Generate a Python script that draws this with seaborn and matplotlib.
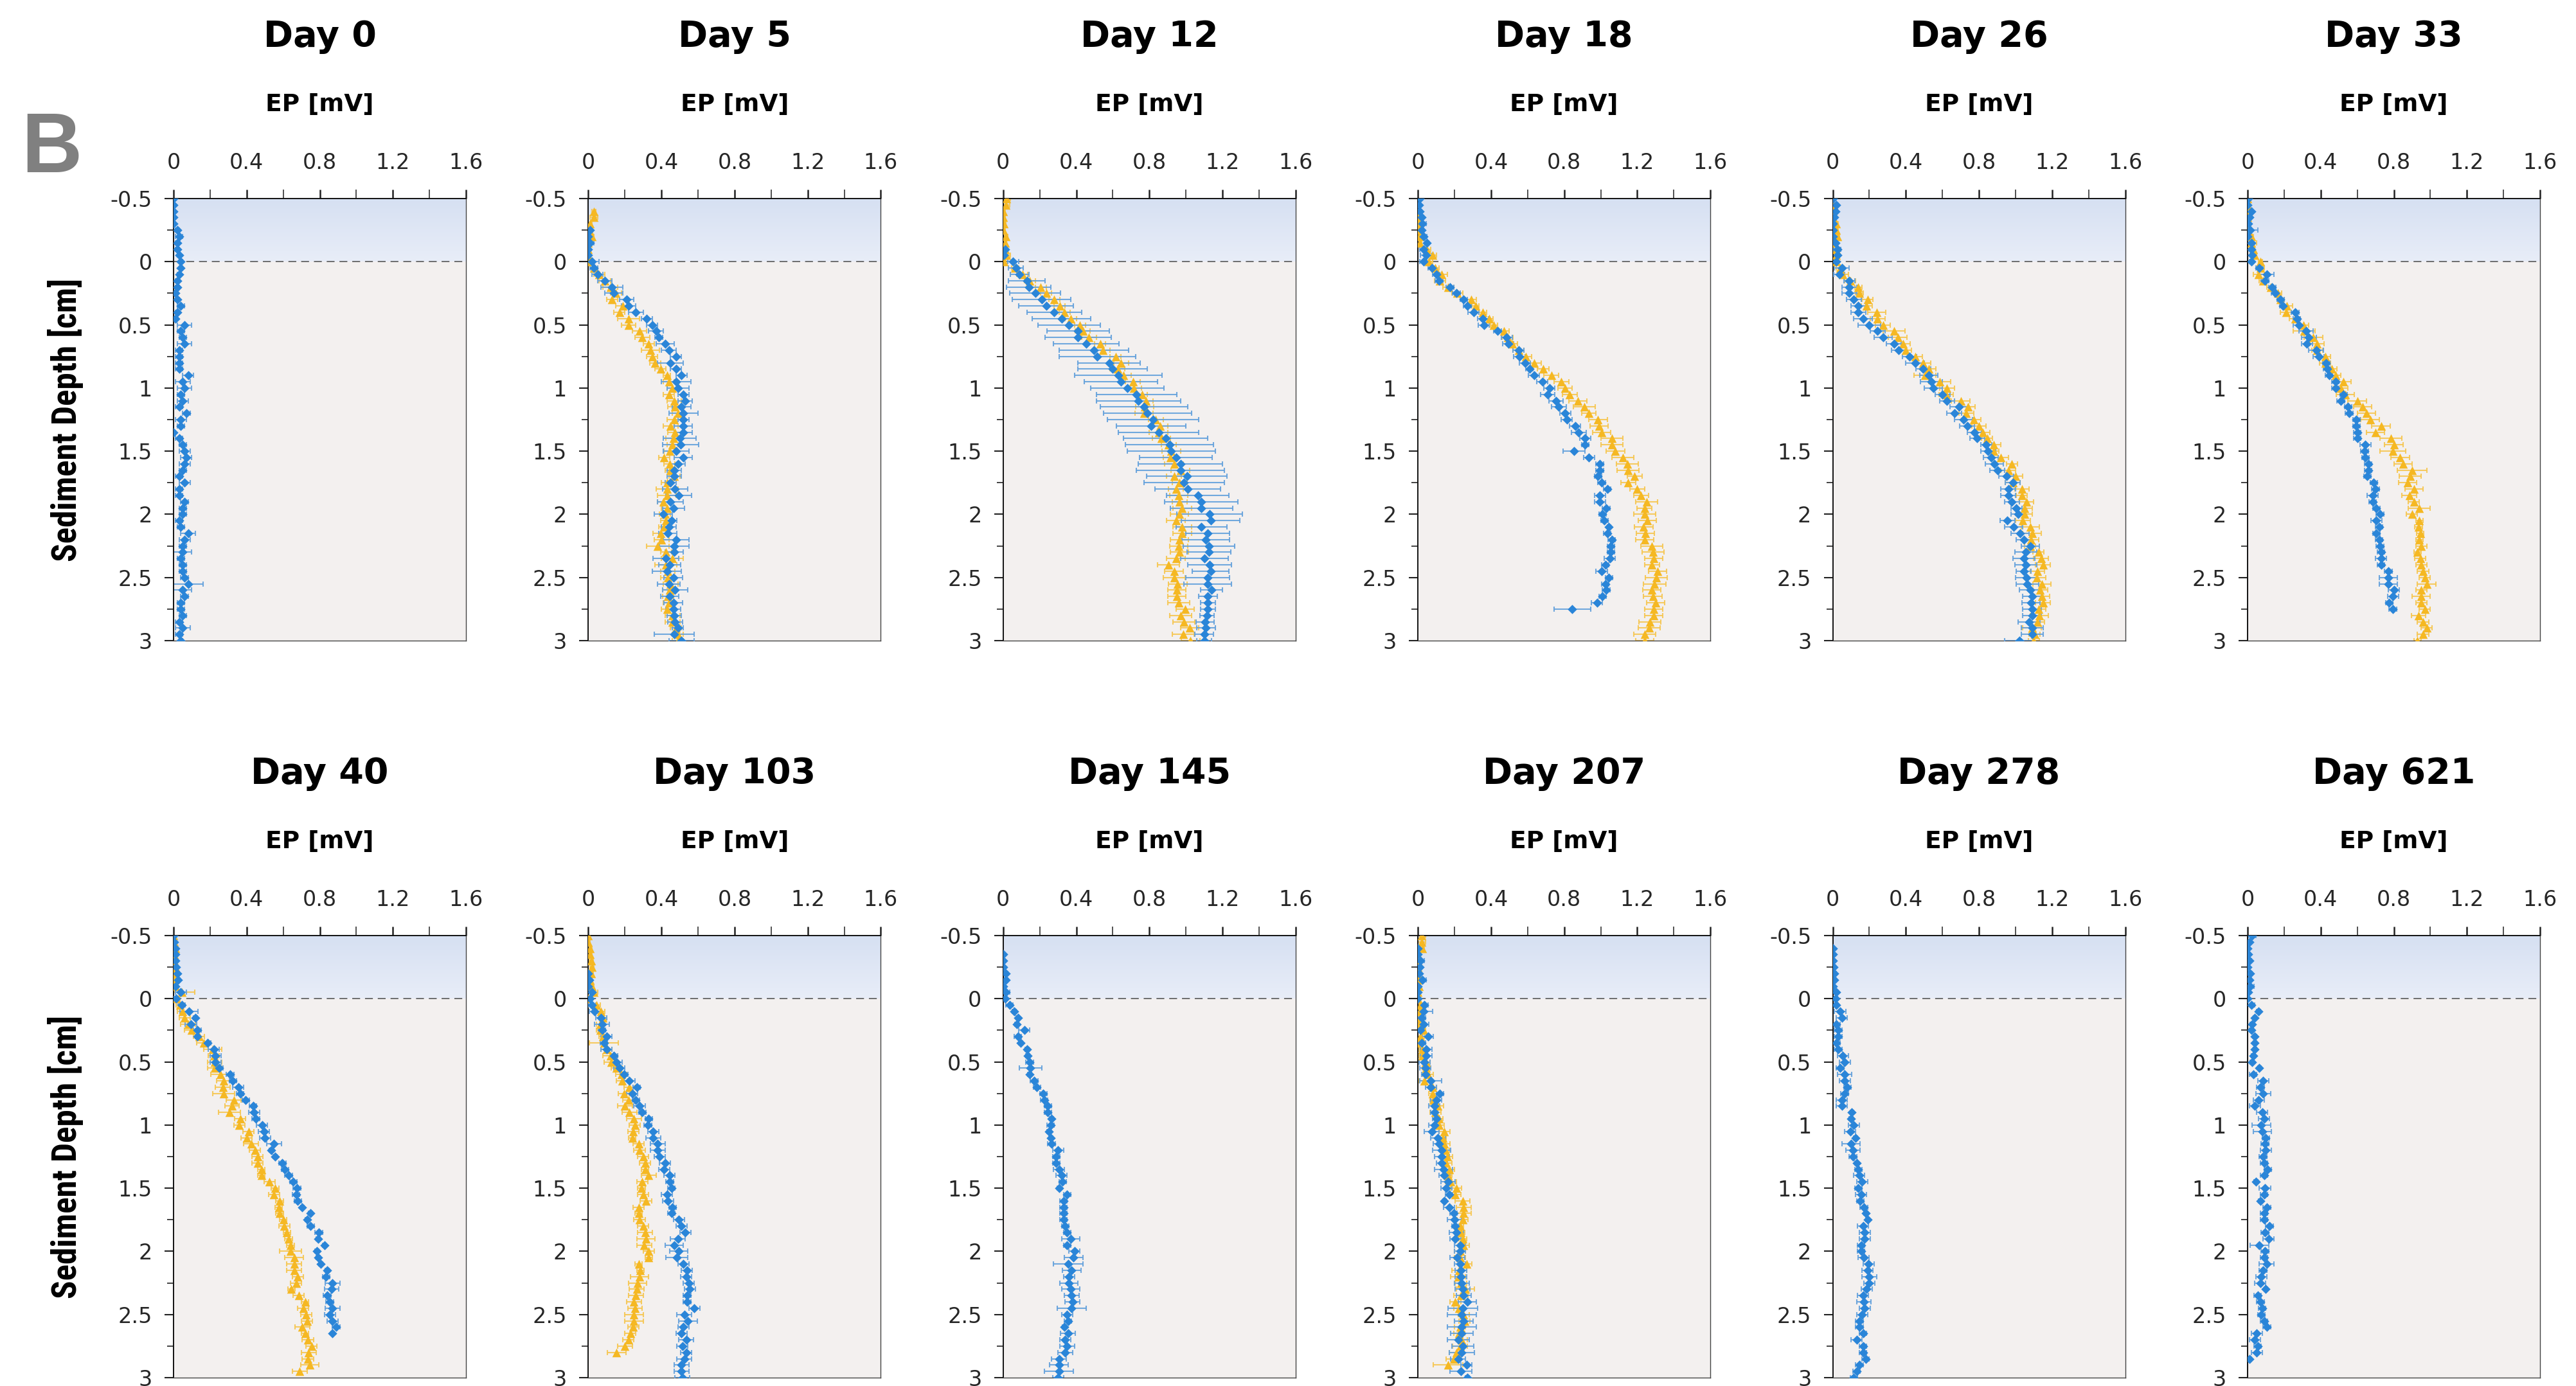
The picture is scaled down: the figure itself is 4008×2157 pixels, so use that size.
import numpy as np
import pandas as pd
import seaborn as sns
import matplotlib
matplotlib.use("Agg")
import matplotlib.pyplot as plt
from matplotlib.colors import LinearSegmentedColormap
from matplotlib.ticker import FixedLocator, FuncFormatter
from matplotlib import font_manager
from matplotlib.font_manager import FontProperties

N = None  # no measurement at this depth

# sampling depths (cm), every 0.05 cm from -0.5 to 3.0 (71 levels)
DEPTH = np.round(np.arange(-0.5, 3.0001, 0.05), 2)

DAYS = ["Day 0", "Day 5", "Day 12", "Day 18", "Day 26", "Day 33",
        "Day 40", "Day 103", "Day 145", "Day 207", "Day 278", "Day 621"]
X_TICKS = [0, 0.4, 0.8, 1.2, 1.6]
Y_TICKS = [-0.5, 0, 0.5, 1, 1.5, 2, 2.5, 3]

# EP values and error half-widths in units of 0.01 mV
d0_b = [0,0,0,0,0,2,3,2,2,3, 4,4,3,2,2,1,2,4,2,1, 6,4,5,6,3,3,3,3,8,5,
        6,4,5,3,7,4,4,0,3,5, 6,7,6,5,3,6,3,3,6,5, 5,3,4,8,6,5,5,4,5,5,
        6,8,5,6,4,4,5,3,5,3, 4]
d0_be = [0,0,0,0,0,1,2,1,1,1, 1,1,1,1,1,1,1,2,1,1, 4,2,2,4,2,2,2,2,3,4,
         4,2,3,2,2,3,2,0,2,2, 3,3,3,2,2,3,2,2,2,2, 2,2,2,4,3,2,5,2,2,2,
         2,8,5,2,2,2,2,2,4,2, 1]

d5_b = [N,N,N,N,N,1,0,1,0,0, 2,3,5,9,13,14,21,22,26,32,
        35,37,38.5,42,44,48,45,48,51,48, 49,52,53,51,52,52,52,52,50,50.5,
        48,52,49,47,47,45,47.5,49.5,45,46.5, 41,45.5,44,43.5,48,47,47,42.5,44.5,43,
        46.5,44,47.5,44.5,46.5,46.5,47,47.5,49,47, 51]
d5_be = [0,0,0,0,0,1,1,2,1,1, 4,2,3,4,6,5,4,4,4,3, 3,4,2,5,4,3,7,3,3,8,
         6,3,4,5,8,3,5,5,9,10, 7,5,4,4,4,3,7,7,7,6, 5,3,4,5,7,8,5,7,6,8,
         5,6,7,5,5,4,4,4,3,11, 7]
d5_o = [N,N,3,3,1,0.5,2,0,0,0, 0.5,3,6,9,12,15,13,19,17,22,
        22,28,29.5,33,34,35,36.5,39.5,43,44, 46,44,47,47.5,49,47,45,47.5,46.5,46,
        44.5,41.5,44.5,45,47,43,43,43,41,43, 42,42.5,41.5,39.5,40,38,42.5,46,42.5,43.5,
        43.5,45,44.5,43.5,44,43,46,46,48,49, 49]
d5_oe = [0,0,1,2,1,1,1,1,1,1, 1,2,3,3,4,3,3,4,3,6, 4,4,4,3,5,3,3,3,2,3,
         3,3,4,4,3,4,4,4,4,3, 3,3,3,3,3,3,6,5,3,3, 3,3,3,4,4,6,3,6,6,4,
         4,4,4,3,3,3,4,4,3,3, 3]

d12_b = [N,N,N,N,N,N,N,N,1,0.5, 5.5,7,9,13,14,17.5,21,23.5,28,32,
         36,41,41,45.5,49.5,51.5,58,60,63,64.5, 68,73,74,77,79,82,81,85,89,91,
         92,94.5,97,97,100.5,99,101,106.5,108.5,108.5, 113,113.5,108.5,112,111,112.5,112.5,110,113,113.5,
         112,112,114,112,112,112,111.5,110.5,111,110, 110]
d12_be = [0,0,0,0,0,0,0,0,1,1, 3,4,5,10,12,14,16,15,15,16, 17,17,18,18,19,21,17,19,24,20,
          20,22,23,24,24,25,19,22,23,24, 24,20,23,24,22,22,18,17,20,17, 18,16,14,12,13,14,12,13,12,10,
          12,13,6,5,4,4,4,5,5,5, 4]
d12_o = [2,1.5,0,0,0.5,0,1.5,1,1,2, 0.5,6.5,10.5,14.5,20.5,23.5,28,31,33.5,37,
         42,43.5,47,53,54.5,61.5,64.5,62.5,66,71, 71.5,76,78,77.5,77,83.5,86,85,86.5,90.5,
         92,91.5,93.5,97,93.5,96.5,94.5,96,96.5,98, 96.5,94.5,98,98,96.5,96,96.5,94.5,90.5,93.5,
         93.5,95.5,95,95,96,99.5,97,99,102,98.5, 102.5]
d12_oe = [2,2,1,1,1,1,1,1,1,2, 1,2,3,3,3,3,3,3,3,3, 3,4,4,3,4,3,4,4,4,4,
          4,3,4,5,5,4,4,5,5,4, 5,4,5,5,4,4,4,5,4,5, 5,5,5,5,5,5,5,5,6,5,
          6,5,5,5,6,5,6,6,5,6, 5]

d18_b = [1,0.5,1,2,2.5,2,3,5,3,4.5, 3,7.5,10,11.5,17.5,21,25,27,30.5,35.5,
         36,43.5,48.5,49.5,55,55.5,58.5,61,63.5,68, 72,71,75.5,77,80.5,81.5,86,88,91.5,91.5,
         85.5,93.5,99.5,99.5,98.5,100.5,103.5,99.5,99.5,103, 101,102,104.5,103.5,106,105.5,105.5,105,102.5,100.5,
         104.5,102.5,103,101,98,84.5,N,N,N,N, N]
d18_be = [1,1,1,1,2,1,2,1,2,3, 2,2,2,2,2,2,2,2,3,3, 3,2,3,3,3,3,3,2,3,3,
          3,4,4,4,3,3,3,4,3,2, 6,3,2,2,2,2,2,3,3,2, 2,2,1,2,2,2,2,3,2,3,
          2,2,2,2,3,10,0,0,0,0, 0]
d18_o = [N,N,N,0,0,0,0.5,1,5,8, 6,9.5,13,12,16.5,21.5,29,31.5,35.5,39,
         41.5,47,49,51.5,55,59,63.5,68.5,73,78.5, 80.5,83,87.5,91,93.5,98.5,99,100.5,106,106,
         108,112,114.5,115,118.5,115,120,122,125,124, 124,125.5,123.5,124.5,124,128,128.5,129,128,131,
         130.5,129.5,128,128.5,130,129,129,127,126.5,124, 124]
d18_oe = [0,0,0,1,1,1,1,1,2,2, 2,2,3,3,3,3,3,2,2,2, 2,3,3,3,3,3,4,3,4,4,
          4,4,5,6,4,5,5,5,6,6, 5,6,6,6,4,4,4,4,6,4, 6,5,5,5,5,6,6,5,4,5,
          6,6,5,5,5,5,5,6,6,6, 5]

d26_b = [0,2,1.5,1,0,0,0,1.5,2.5,2.5, 2,5,3.5,9,9,9,11.5,14,14,16.5,
         20,24.5,27.5,33.5,36,42,45,49.5,52.5,54, 55,60,62.5,69,66.5,71.5,73.5,77.5,79,84,
         85,86.5,88.5,90,95,98.5,96,96,98,100.5, 101.5,95.5,99,102.5,104.5,108,105.5,104.5,105.5,104.5,
         106,106.5,108,109,108.5,109,109,107.5,109,109, 102]
d26_be = [0,1,1,1,1,1,1,1,2,1, 1,4,3,3,4,4,4,4,4,5, 6,4,5,4,4,4,5,4,5,6,
          5,4,4,5,4,5,4,4,4,3, 4,4,5,4,4,4,4,4,4,3, 4,4,5,5,4,5,6,6,6,4,
          6,6,6,5,5,5,5,6,6,6, 8]
d26_o = [N,0,0,0,2,2,2.5,0,2,2, 2,4,5.5,9.5,14,14.5,19,18.5,24,24.5,
         27.5,33.5,35.5,38.5,40,45,49.5,52.5,50.5,58.5, 62.5,62,70,74,73,77,80,82,84.5,88,
         88,92,98,96,100,98.5,103.5,103.5,106,105, 105,104,108,109,108.5,108,112.5,114,115,112,
         111.5,114.5,113.5,114.5,115,112.5,113,112,109,110.5, 110]
d26_oe = [0,0,0,0,1,1,1,1,2,1, 1,2,3,3,2,2,3,3,5,4, 4,6,5,4,3,4,4,4,6,6,
          4,4,5,4,4,4,4,4,3,4, 3,4,3,4,4,4,4,3,4,4, 4,4,5,5,4,3,3,4,4,4,
          5,5,4,4,4,4,5,4,5,3, 3]

d33_b = [0.5,0,2,1,0.5,1.5,0,2,2,2.5, 2,6.5,10.5,9.5,13.5,15,18,19.5,26,27,
         28,32,33.5,32.5,37.5,39,43,43.5,44.5,48, 48,52.5,51,55,55.5,59.5,59.5,60,60,64.5,
         64,64.5,66,66,65.5,69,70,68.5,68.5,70.5, 72.5,70.5,72,70.5,72,72.5,73,73,73,77,
         77,77,80,79.5,77.5,79.5,N,N,N,N, N]
d33_be = [0,0,0,0,0,4,1,1,1,1, 1,2,4,2,2,2,2,2,2,2, 3,4,4,3,4,3,2,2,2,2,
          2,2,2,2,2,2,2,2,2,3, 2,2,2,2,2,2,2,3,2,2, 2,3,2,2,2,2,2,3,2,2,
          5,5,3,3,2,2,0,0,0,0, 0]
d33_o = [0,0,0.5,0,0,0,2,2,3,4, 7,7,6,8.5,12.5,16.5,18,21.5,21,26,
         30.5,31,36,38,38,42.5,42.5,46,48,52.5, 51,53.5,60,63,65,67,73,70,78.5,80,
         79.5,83.5,85,90,89,87.5,91,88.5,91,94, 90,94,93.5,94.5,94,95,93,94.5,95,96,
         97,98,95,95,95,97,93.5,96,98,96, 93]
d33_oe = [0,0,0,0,0,0,1,3,1,1, 1,2,3,2,2,2,2,3,3,3, 3,6,5,4,3,3,3,3,3,4,
          4,5,5,5,5,5,5,5,6,5, 7,5,5,8,6,5,5,4,3,6, 3,2,2,2,2,3,2,3,3,3,
          3,5,3,5,3,3,4,3,3,3, 2]

d40_b = [0,0.5,1,1,1,1.5,2,2.5,1,4, 1.5,4.5,8.5,12,9.5,13,13,18.5,22,23,
         23,25,31,32.5,35.5,36.5,39.5,43.5,44,45, 48.5,49.5,50,55,53.5,55.5,59.5,61,63,65.5,
         67.5,67,68,70.5,75,73,75,79.5,79,82.5, 78.5,79,80.5,84,83.5,87,86.5,84,85.5,87,
         85.5,87,89,87,N,N,N,N,N,N, N]
d40_be = [0,1,1,1,1,1,1,1,1,3, 1,2,5,1,3,2,1,2,3,3, 3,2,2,2,3,2,2,2,3,2,
          3,3,3,4,1,1,2,2,2,2, 2,2,2,1,1,1,2,2,1,1, 1,1,1,1,2,4,4,2,2,4,
          3,3,2,1,0,0,0,0,0,0, 0]
d40_o = [0,0.5,1,0.5,0.5,1,0,0,1,4.5, 1.5,3.5,5,6,8,10,14,16.5,21.5,22,
         22.5,22.5,25.5,27.5,27,27.5,33,32,30.5,36.5, 36,41,40,42.5,44.5,46,46,48,48,52.5,
         55.5,55,58,57.5,58,60,60.5,62,63,64, 64,66,66,66,68,67,64.5,68.5,72,71,
         72.5,73,70.5,72,73.5,75.5,74,73.5,74.5,69, N]
d40_oe = [0,1,1,1,1,1,1,2,1,7, 2,2,3,3,4,4,3,4,5,3, 4,4,5,4,4,6,4,4,6,3,
          3,3,3,4,3,3,3,2,2,3, 2,3,2,2,2,2,3,2,2,2, 6,5,4,4,3,3,2,3,2,3,
          3,3,4,2,3,3,4,3,5,4, 0]

d103_b = [N,N,N,N,N,N,0,0.5,0,2, 1,2,3.5,7,7.5,7.5,10,8.5,10,14,
          15.5,17,19.5,22.5,26.5,24,26,28,29.5,33, 32.5,35.5,35.5,38,38,39,42,41.5,44.5,44.5,
          45.5,43,43.5,46,45.5,49.5,51,53,49,47, 49.5,48.5,52,54,53.5,55,55.5,54,54,58,
          52.5,54.5,52,51,53.5,51.5,53.5,52.5,51,51, 51.5]
d103_be = [0,0,0,0,0,0,1,1,1,1, 1,2,3,3,4,2,3,2,3,2, 3,3,2,3,2,3,2,3,2,2,
           2,3,4,4,4,3,3,3,3,2, 2,3,3,2,2,3,3,3,4,5, 5,6,3,3,3,3,3,2,2,3,
           4,5,3,3,4,3,3,4,4,4, 4]
d103_o = [0,0,1,1,1.5,2,1.5,1,2,3, 0,4.5,7,8,6.5,6.5,8,8.5,10,12,
          12.5,15.5,18,18.5,22.5,19.5,22,20,22.5,25, 25.5,24.5,24,27.5,28,30,31,31,33,29.5,
          29,30,31.5,27.5,27.5,28,30,31,31.5,30.5, 33,33,27.5,28.5,28,27,26.5,26,25,25.5,
          25,25,24.5,23,22,20,15.5,N,N,N, N]
d103_oe = [0,1,1,1,1,1,1,1,1,2, 0,2,2,2,2,2,2,8,3,4, 4,3,3,3,3,3,3,4,4,4,
           3,3,2,3,3,3,3,2,4,3, 2,3,3,3,2,3,3,4,5,4, 3,2,2,2,5,5,4,4,4,4,
           5,5,3,3,3,4,5,0,0,0, 0]

d145_b = [N,N,N,0,0,0,1.5,1.5,0,1.5, 1,3.5,6,8,7.5,11.5,8,9.5,13,13.5,
          14.5,15,14.5,17,18.5,22,22.5,24.5,24.5,26.5, 26,25,26,26.5,30,29,29,30.5,32,32.5,
          30.5,35,33,33,33,33,34,35,37,35, 39,38.5,35.5,37.5,36,36,37,37.5,38,37.5,
          35,35.5,33.5,35.5,34,35,34,30.5,30.5,30.5, 30]
d145_be = [0,0,0,0,0,0,1,1,0,2, 1,2,1,1,1,3,2,1,1,1, 2,6,1,2,2,2,2,2,2,1,
           2,1,1,2,3,2,2,3,3,2, 1,2,2,2,2,2,2,2,5,2, 3,5,8,5,3,5,5,4,4,8,
           3,2,1,4,3,4,4,4,5,8, 3]

d207_b = [N,N,0,0,1.5,1,0.5,2.5,0,0, 0,3.5,3,2,3,1.5,5.5,2,4.5,4.5,
          3.5,4,4,7,7,12,10,9,9,10, 9,7.5,11,11.5,13,13,13,14,14.5,16.5,
          15.5,17,14.5,17,19.5,20,20.5,21,20.5,23, 23,21.5,23,23.5,23.5,24,24.5,25,27,24.5,
          24,25,24,24,22,24.5,24,22,26.5,23.5, 27]
d207_be = [0,0,1,1,2,1,1,2,0,0, 0,2,5,2,3,2,3,2,3,3, 3,3,2,6,3,2,3,3,2,2,
           3,4,4,3,5,4,3,5,3,4, 3,2,1,3,2,4,2,4,3,3, 3,4,3,3,3,4,4,4,5,8,
           8,5,8,6,6,6,7,4,3,6, 1]
d207_o = [2,2,2.5,0,0,0,0,0,0.5,0, 0,1.5,1,1,0.5,3,1.5,0,2.5,2.5,
          4.5,4.5,5.5,3.5,8,8,8.5,11,9.5,11.5, 11.5,14.5,13.5,14.5,15,16,15.5,17,16.5,18,
          21,20.5,24.5,25,25,24.5,23,23.5,24.5,25, 23,23,26.5,22.5,22,23.5,26,23.5,20.5,22.5,
          25,25.5,23,22.5,24,23,21,19.5,16.5,N, N]
d207_oe = [2,2,1,0,1,1,1,1,1,1, 1,1,1,1,1,1,2,1,2,2, 2,2,3,3,2,2,2,3,3,2,
           3,3,2,3,2,3,3,3,2,3, 3,3,4,4,4,3,2,2,2,3, 3,3,3,4,4,3,5,4,3,3,
           3,3,3,3,3,4,4,4,8,0, 0]

d278_b = [N,N,0,0,0,0.5,1,1,0,2, 1.5,2,4,5,2,3,3,2,3,5.5,
          6.5,4,6.5,6.5,8,6.5,5,5,10.5,10, 11.5,9.5,12.5,10,11,11,13,14,14.5,16,
          14,15.5,15,17,18,19,16.5,17.5,17.5,15.5, 15.5,17,19.5,19,20,20,18.5,16.5,17,17.5,
          16,14.5,14.5,16.5,13,16.5,16.5,18,14.5,13, 11.5]
d278_be = [0,0,0,0,0,1,1,1,0,1, 1,1,3,3,2,2,2,2,2,3, 3,2,4,3,2,2,3,3,1,1,
           3,3,1,5,4,2,1,2,3,3, 2,3,2,2,1,1,3,3,3,2, 2,3,3,3,4,3,3,3,4,3,
           3,2,2,2,3,2,2,2,2,2, 2]

d621_b = [2.5,1,0,0.5,1,0,1.5,1,1.5,0.5, 0,2,6,4,2.5,2,4,4,4,3,
          2.5,6.5,3,8.5,7,8.5,6,4,8,9, 7.5,8,10,9.5,10,8.5,9,11,9,4.5,
          9.5,9,7,10.5,9,9,12,9.5,11.5,6.5, 9.5,9,10.5,8.5,7.5,7,10,5.5,7,8,
          7.5,9,10.5,5,4,5.5,5,1,N,N, N]
d621_be = [2,1,1,1,1,1,1,1,2,1, 0,2,1,1,1,1,1,1,1,1, 1,1,2,3,2,4,3,3,3,3,
           5,5,2,2,3,2,2,2,2,1, 3,2,1,2,2,2,2,2,3,5, 2,2,4,2,3,3,1,2,2,2,
           2,2,2,3,3,2,3,1,0,0, 0]

BLUE = [d0_b, d5_b, d12_b, d18_b, d26_b, d33_b, d40_b, d103_b, d145_b, d207_b, d278_b, d621_b]
BLUE_ERR = [d0_be, d5_be, d12_be, d18_be, d26_be, d33_be, d40_be, d103_be, d145_be, d207_be, d278_be, d621_be]
ORANGE = [None, d5_o, d12_o, d18_o, d26_o, d33_o, d40_o, d103_o, None, d207_o, None, None]
ORANGE_ERR = [None, d5_oe, d12_oe, d18_oe, d26_oe, d33_oe, d40_oe, d103_oe, None, d207_oe, None, None]

for grp in (BLUE, BLUE_ERR, ORANGE, ORANGE_ERR):
    for k, s in enumerate(grp):
        if s is not None:
            assert len(s) == len(DEPTH), (DAYS[k], len(s))

# ---------------- style ----------------
sns.set_theme(style="white")
plt.rcParams["font.family"] = ["DejaVu Sans"]
plt.rcParams["axes.unicode_minus"] = False


def _weight(f):
    w = f.weight
    if isinstance(w, str):
        return 700 if "bold" in w.lower() or "heavy" in w.lower() or "black" in w.lower() else 400
    return int(w)


def _is_narrow(f):
    st = f.stretch
    tag = (f.name + " " + f.fname).lower()
    if "narrow" in tag or "condensed" in tag:
        return True
    if isinstance(st, str):
        return "condensed" in st
    return st < 500


def narrow_bold_font():
    prefs = ["liberation sans narrow", "arial narrow", "roboto condensed",
             "open sans condensed", "noto sans", "dejavu sans"]
    cands = [f for f in font_manager.fontManager.ttflist
             if _is_narrow(f) and _weight(f) >= 600 and "italic" not in f.fname.lower()
             and "oblique" not in f.fname.lower() and "mono" not in f.name.lower()
             and "serif" not in f.name.lower()]
    for p in prefs:
        for f in cands:
            if f.name.lower().startswith(p):
                return FontProperties(fname=f.fname)
    return FontProperties(family="DejaVu Sans", weight="bold")


C_BLUE = "#2A85D8"
C_BLUE_ERR = "#62A0DC"
C_ORANGE = "#F5B823"
C_ORANGE_ERR = "#F6C650"
C_SED = "#F3F0EF"
water_cmap = LinearSegmentedColormap.from_list("water", ["#D6E0F2", "#E8EDF8"])

W, H = 4008, 2157
fig = plt.figure(figsize=(W / 100, H / 100), dpi=100)

AX_W, AX_H = 455, 688
LEFTS = [270 + 645.4 * i for i in range(6)]
TOPS = [309, 1456]
YLAB_LEN = 440  # target length of the depth label in pixels

def fmt(v, _pos=None):
    return "%g" % v

ylabels = []
for idx, day in enumerate(DAYS):
    r, c = divmod(idx, 6)
    ax = fig.add_axes([LEFTS[c] / W, 1 - (TOPS[r] + AX_H) / H, AX_W / W, AX_H / H])
    ax.set_facecolor(C_SED)
    ax.imshow(np.linspace(0, 1, 64).reshape(-1, 1), extent=[0, 1.6, 0, -0.5],
              cmap=water_cmap, aspect="auto", interpolation="bilinear", zorder=0.5)
    ax.axhline(0, color="#4A4A4A", lw=1.1, ls=(0, (8, 5)), zorder=1)

    series = []
    if ORANGE[idx] is not None:
        series.append((ORANGE[idx], ORANGE_ERR[idx], C_ORANGE, C_ORANGE_ERR, "^", 95))
    series.append((BLUE[idx], BLUE_ERR[idx], C_BLUE, C_BLUE_ERR, "D", 54))
    for z, (vals, errs, col, ecol, mk, sz) in enumerate(series):
        x = np.array(vals, dtype=float) * 0.01
        e = np.array(errs, dtype=float) * 0.01
        m = ~np.isnan(x)
        df = pd.DataFrame({"EP": x[m], "depth": DEPTH[m], "err": e[m]})
        ax.errorbar(df["EP"], df["depth"], xerr=df["err"], fmt="none", ecolor=ecol,
                    elinewidth=1.5, capsize=3.2, capthick=1.5, alpha=0.9, zorder=2 + z)
        sns.scatterplot(data=df, x="EP", y="depth", marker=mk, color=col, s=sz,
                        linewidth=0, ax=ax, zorder=4 + z, legend=False)

    ax.set_xlim(0, 1.6)
    ax.set_ylim(3, -0.5)
    ax.set_xlabel("")
    ax.set_ylabel("")
    ax.xaxis.tick_top()
    ax.xaxis.set_major_locator(FixedLocator(X_TICKS))
    ax.xaxis.set_minor_locator(FixedLocator([0.2, 0.6, 1.0, 1.4]))
    ax.yaxis.set_major_locator(FixedLocator(Y_TICKS))
    ax.yaxis.set_minor_locator(FixedLocator([-0.25, 0.25, 0.75, 1.25, 1.75, 2.25, 2.75]))
    ax.xaxis.set_major_formatter(FuncFormatter(fmt))
    ax.yaxis.set_major_formatter(FuncFormatter(fmt))
    ax.tick_params(axis="x", which="both", top=True, bottom=False, direction="out",
                   length=10, color="#222222", labelsize=24, pad=18)
    ax.tick_params(axis="x", which="major", width=1.8)
    ax.tick_params(axis="x", which="minor", width=1.1)
    ax.tick_params(axis="y", which="major", left=True, direction="out", length=10,
                   width=1.5, color="#222222", labelsize=24, pad=14)
    ax.tick_params(axis="y", which="minor", left=True, direction="out", length=7,
                   width=1.2, color="#222222")
    for sp in ("left", "top"):
        ax.spines[sp].set_color("#111111")
        ax.spines[sp].set_linewidth(1.4)
    for sp in ("right", "bottom"):
        ax.spines[sp].set_color("#444444")
        ax.spines[sp].set_linewidth(1.0)

    ax.text(0.5, 1 + 252 / AX_H, day, transform=ax.transAxes, ha="center", va="center",
            fontsize=40, fontweight="bold", color="black")
    ax.text(0.5, 1 + 146 / AX_H, "EP [mV]", transform=ax.transAxes, ha="center",
            va="center", fontsize=27, fontweight="bold", color="black")
    if c == 0:
        fp = narrow_bold_font()
        fp.set_size(34)
        t = ax.text(-168 / AX_W, 0.5, "Sediment Depth [cm]", transform=ax.transAxes,
                    rotation=90, ha="center", va="center", color="black",
                    fontproperties=fp)
        ylabels.append(t)

# fit the depth label to the length it has in the original
fig.canvas.draw()
rend = fig.canvas.get_renderer()
for t in ylabels:
    h = t.get_window_extent(renderer=rend).height
    if h > 0:
        t.set_fontsize(min(44, max(24, 34 * YLAB_LEN / h)))

fig.text(33 / W, 1 - 268 / H, "B", fontsize=94, fontweight="bold", color="#808080",
         family=["Liberation Sans", "DejaVu Sans"], ha="left", va="baseline")

fig.savefig("out.png", dpi=100)
